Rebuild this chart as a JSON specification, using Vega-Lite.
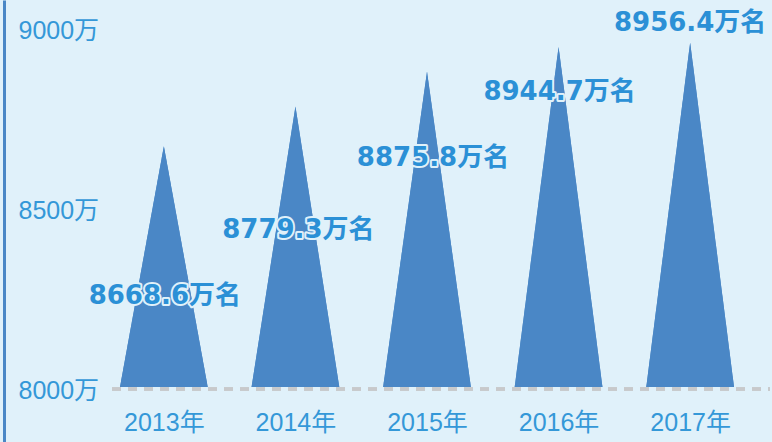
{
  "$schema": "https://vega.github.io/schema/vega-lite/v6.json",
  "autosize": {"type": "fit", "contains": "padding"},
  "width": 772,
  "height": 442,
  "padding": 0,
  "background": "#e0f1fa",
  "config": {"view": {"stroke": null}},
  "datasets": {
    "triangles": [
      {"year": "2013年", "point": "2013年L", "people": 8000},
      {"year": "2013年", "point": "2013年", "people": 8668.6},
      {"year": "2013年", "point": "2013年R", "people": 8000},
      {"year": "2014年", "point": "2014年L", "people": 8000},
      {"year": "2014年", "point": "2014年", "people": 8779.3},
      {"year": "2014年", "point": "2014年R", "people": 8000},
      {"year": "2015年", "point": "2015年L", "people": 8000},
      {"year": "2015年", "point": "2015年", "people": 8875.8},
      {"year": "2015年", "point": "2015年R", "people": 8000},
      {"year": "2016年", "point": "2016年L", "people": 8000},
      {"year": "2016年", "point": "2016年", "people": 8944.7},
      {"year": "2016年", "point": "2016年R", "people": 8000},
      {"year": "2017年", "point": "2017年L", "people": 8000},
      {"year": "2017年", "point": "2017年", "people": 8956.4},
      {"year": "2017年", "point": "2017年R", "people": 8000}
    ],
    "labels": [
      {"year": "2013年", "point": "2013年", "people": 8668.6, "label": "8668.6万名"},
      {"year": "2014年", "point": "2014年", "people": 8779.3, "label": "8779.3万名"},
      {"year": "2015年", "point": "2015年", "people": 8875.8, "label": "8875.8万名"},
      {"year": "2016年", "point": "2016年", "people": 8944.7, "label": "8944.7万名"},
      {"year": "2017年", "point": "2017年", "people": 8956.4, "label": "8956.4万名"}
    ]
  },
  "layer": [
    {
      "data": {"name": "triangles"},
      "mark": {"type": "area", "color": "#4a87c6", "interpolate": "linear"},
      "encoding": {
        "x": {
          "field": "point",
          "type": "nominal",
          "sort": null,
          "scale": {
            "type": "point",
            "domain": ["2013年L", "2013年", "2013年R", "2014年L", "2014年", "2014年R", "2015年L", "2015年", "2015年R", "2016年L", "2016年", "2016年R", "2017年L", "2017年", "2017年R"],
            "range": [120, 734],
            "padding": 0
          },
          "axis": {
            "title": null,
            "orient": "bottom",
            "values": ["2013年", "2014年", "2015年", "2016年", "2017年"],
            "domain": false,
            "ticks": false,
            "tickSize": 0,
            "grid": false,
            "offset": -55,
            "labelPadding": 35,
            "labelBaseline": "middle",
            "labelAngle": 0,
            "labelFont": "Liberation Sans, Noto Sans CJK SC",
            "labelFontSize": 25,
            "labelColor": "#3498d8"
          }
        },
        "y": {
          "field": "people",
          "type": "quantitative",
          "stack": null,
          "scale": {"domain": [7847.2, 9075], "nice": false, "zero": false},
          "axis": {
            "title": null,
            "orient": "left",
            "values": [8000, 8500, 9000],
            "labelExpr": "format(datum.value, 'd') + '万'",
            "domain": true,
            "domainColor": "#4a87c6",
            "domainWidth": 3,
            "offset": -4,
            "ticks": false,
            "tickSize": 0,
            "grid": false,
            "labelAlign": "left",
            "labelPadding": -14,
            "labelBaseline": "middle",
            "labelOffset": 4,
            "labelFont": "Liberation Sans, Noto Sans CJK SC",
            "labelFontSize": 25,
            "labelColor": "#3498d8"
          }
        },
        "y2": {"datum": 8000},
        "detail": {"field": "year"}
      }
    },
    {
      "data": {"name": "labels"},
      "mark": {
        "type": "rule",
        "color": "#c8c9cb",
        "strokeWidth": 3,
        "strokeDash": [9, 7],
        "xOffset": -8,
        "yOffset": 2
      },
      "encoding": {
        "x": {"datum": "2013年L", "type": "nominal"},
        "x2": {"value": "width"},
        "y": {"datum": 8000, "type": "quantitative"}
      }
    },
    {
      "data": {"name": "triangles"},
      "mark": {"type": "area", "color": "#4a87c6", "interpolate": "linear"},
      "encoding": {
        "x": {"field": "point", "type": "nominal", "sort": null},
        "y": {"field": "people", "type": "quantitative", "stack": null},
        "y2": {"datum": 8000},
        "detail": {"field": "year"}
      }
    },
    {
      "data": {"name": "labels"},
      "mark": {
        "type": "text",
        "font": "DejaVu Sans, Noto Sans CJK SC",
        "fontWeight": "bold",
        "fontSize": 26,
        "align": "center",
        "baseline": "middle",
        "fill": "#e0f1fa",
        "stroke": "#e0f1fa",
        "strokeWidth": 4,
        "strokeJoin": "round",
        "dx": {"expr": "datum.year == '2013年' ? 1 : datum.year == '2014年' ? 3 : datum.year == '2015年' ? 6 : datum.year == '2016年' ? 1 : 0"},
        "dy": {"expr": "datum.year == '2013年' ? 150 : datum.year == '2014年' ? 124 : datum.year == '2015年' ? 86 : datum.year == '2016年' ? 45 : -20"}
      },
      "encoding": {
        "x": {"field": "point", "type": "nominal", "sort": null},
        "y": {"field": "people", "type": "quantitative"},
        "text": {"field": "label"}
      }
    },
    {
      "data": {"name": "labels"},
      "mark": {
        "type": "text",
        "font": "DejaVu Sans, Noto Sans CJK SC",
        "fontWeight": "bold",
        "fontSize": 26,
        "align": "center",
        "baseline": "middle",
        "fill": "#2b90d6",
        "dx": {"expr": "datum.year == '2013年' ? 1 : datum.year == '2014年' ? 3 : datum.year == '2015年' ? 6 : datum.year == '2016年' ? 1 : 0"},
        "dy": {"expr": "datum.year == '2013年' ? 150 : datum.year == '2014年' ? 124 : datum.year == '2015年' ? 86 : datum.year == '2016年' ? 45 : -20"}
      },
      "encoding": {
        "x": {"field": "point", "type": "nominal", "sort": null},
        "y": {"field": "people", "type": "quantitative"},
        "text": {"field": "label"}
      }
    }
  ]
}
